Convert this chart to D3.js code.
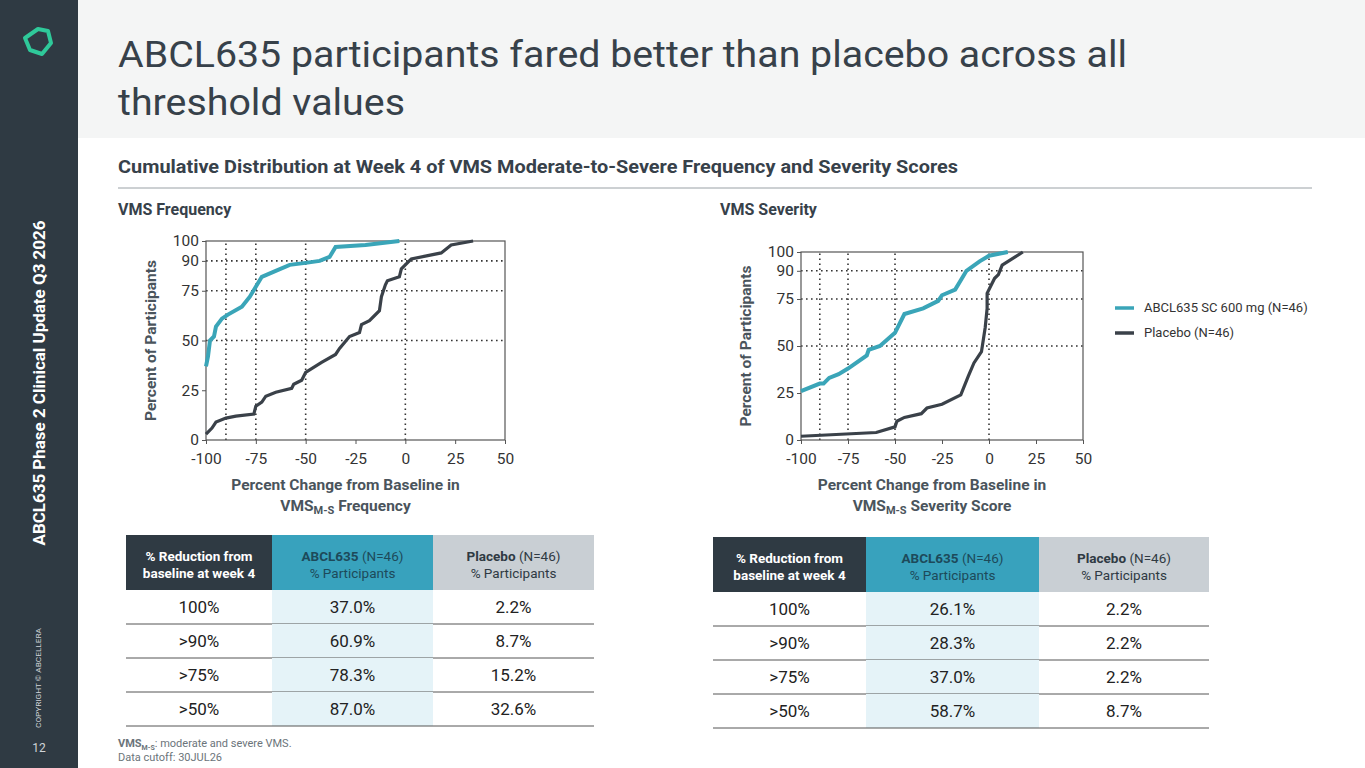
<!DOCTYPE html>
<html><head><meta charset="utf-8">
<script src="https://cdn.jsdelivr.net/npm/d3@7"></script>
<style>body{margin:0;background:#fff;font-family:Roboto,sans-serif}</style>
</head><body><svg id="s" width="1365" height="768"></svg>
<script>
var freqAbcl = [[-100,37],[-99,42],[-98,50],[-96,52],[-95,57],[-92,61],[-89,63],[-82,67],[-78,72],[-75,77],[-72,82],[-65,85],[-58,88],[-50,89],[-43,90],[-38,92],[-35,97],[-20,98],[-3,100]];
var freqPbo = [[-100,3],[-97,6],[-95,9],[-90,11],[-85,12],[-76,13],[-75,17],[-72,19],[-70,22],[-65,24],[-57,26],[-56,28],[-52,30],[-50,34],[-42,39],[-35,43],[-33,46],[-28,52],[-23,54],[-22,58],[-18,60],[-13,65],[-12,72],[-10,78],[-9,80],[-3,82],[-2,86],[1,89],[3,91],[18,94],[23,98],[34,100]];
var sevAbcl = [[-100,26],[-90,30],[-88,30],[-85,33],[-80,35],[-75,38],[-65,45],[-64,48],[-58,50],[-50,57],[-45,67],[-35,70],[-27,74],[-25,77],[-18,80],[-15,85],[-12,90],[-5,95],[0,98],[10,100]];
var sevPbo = [[-100,2],[-60,4],[-50,7],[-49,10],[-45,12],[-36,14],[-33,17],[-25,19],[-15,24],[-11,34],[-8,41],[-4,47],[-2,60],[-1,70],[-1,78],[1,82],[3,86],[5,88],[7,93],[18,100]];
var xTicks = [-100,-75,-50,-25,0,25,50];
var yTicks = [0,25,50,75,90,100];
var vRefs = [-90,-75,-50,0];
var hRefs = [50,75,90];
var rowLabels = ["100%", ">90%", ">75%", ">50%"];
var freqAbclPct = ["37.0%","60.9%","78.3%","87.0%"];
var freqPboPct = ["2.2%","8.7%","15.2%","32.6%"];
var sevAbclPct = ["26.1%","28.3%","37.0%","58.7%"];
var sevPboPct = ["2.2%","2.2%","2.2%","8.7%"];

var svg = d3.select("#s");
var dark = "#2f3a43", teal = "#3aa5b8", txt = "#37414a";

svg.append("rect").attr("width",78).attr("height",768).attr("fill",dark);
svg.append("rect").attr("x",78).attr("width",1287).attr("height",138).attr("fill","#f4f5f5");
svg.append("polygon").attr("points","38,29 48,31 51,43 42,54 30,50 25,38").attr("fill","none").attr("stroke","#2fc99a").attr("stroke-width",4).attr("stroke-linejoin","round");
svg.append("text").attr("transform","translate(45,383) rotate(-90)").attr("text-anchor","middle").attr("fill","#fff").attr("font-size",17).attr("font-weight",700).attr("textLength",325).attr("lengthAdjust","spacingAndGlyphs").text("ABCL635 Phase 2 Clinical Update Q3 2026");
svg.append("text").attr("transform","translate(41,728) rotate(-90)").attr("text-anchor","start").attr("fill","#cfd4d8").attr("font-size",8).attr("textLength",100).attr("lengthAdjust","spacingAndGlyphs").text("COPYRIGHT © ABCELLERA");
svg.append("text").attr("x",39).attr("y",752).attr("text-anchor","middle").attr("fill","#cfd4d8").attr("font-size",12).text("12");

svg.append("text").attr("x",118).attr("y",67).attr("fill",txt).attr("font-size",37).attr("textLength",1009).attr("lengthAdjust","spacingAndGlyphs").text("ABCL635 participants fared better than placebo across all");
svg.append("text").attr("x",118).attr("y",115).attr("fill",txt).attr("font-size",37).attr("textLength",287).attr("lengthAdjust","spacingAndGlyphs").text("threshold values");
svg.append("text").attr("x",118).attr("y",173).attr("fill",txt).attr("font-size",18.5).attr("font-weight",700).attr("textLength",840).attr("lengthAdjust","spacingAndGlyphs").text("Cumulative Distribution at Week 4 of VMS Moderate-to-Severe Frequency and Severity Scores");
svg.append("line").attr("x1",118).attr("x2",1312).attr("y1",188).attr("y2",188).attr("stroke","#9aa1a6");
svg.append("text").attr("x",118).attr("y",215).attr("fill",txt).attr("font-size",16).attr("font-weight",700).text("VMS Frequency");
svg.append("text").attr("x",720).attr("y",215).attr("fill",txt).attr("font-size",16).attr("font-weight",700).text("VMS Severity");

function chart(x0,x1,y0,y1,a,p,label2){
  var x = d3.scaleLinear().domain([-100,50]).range([x0,x1]);
  var y = d3.scaleLinear().domain([0,100]).range([y0,y1]);
  var g = svg.append("g");
  vRefs.forEach(function(v){ g.append("line").attr("x1",x(v)).attr("x2",x(v)).attr("y1",y(0)).attr("y2",y(100)).attr("stroke","#333").attr("stroke-width",1.6).attr("stroke-dasharray","1.6,3.4"); });
  hRefs.forEach(function(v){ g.append("line").attr("x1",x(-100)).attr("x2",x(50)).attr("y1",y(v)).attr("y2",y(v)).attr("stroke","#333").attr("stroke-width",1.6).attr("stroke-dasharray","1.6,3.4"); });
  g.append("rect").attr("x",x0).attr("y",y1).attr("width",x1-x0).attr("height",y0-y1).attr("fill","none").attr("stroke","#555").attr("stroke-width",1.2);
  var ln = d3.line().x(function(d){return x(d[0]);}).y(function(d){return y(d[1]);});
  g.append("path").attr("d",ln(p)).attr("fill","none").attr("stroke","#3a4149").attr("stroke-width",3.2);
  g.append("path").attr("d",ln(a)).attr("fill","none").attr("stroke",teal).attr("stroke-width",4);
  var xa = g.append("g").attr("transform","translate(0,"+y0+")").call(d3.axisBottom(x).tickValues(xTicks).tickSize(4).tickFormat(function(d){return String(d);}));
  var ya = g.append("g").attr("transform","translate("+x0+",0)").call(d3.axisLeft(y).tickValues(yTicks).tickSize(4));
  [xa,ya].forEach(function(ax){ ax.select(".domain").remove(); ax.selectAll("line").attr("stroke","#555"); ax.selectAll("text").attr("font-size",15.5).attr("fill","#333").attr("font-family","Roboto"); });
  xa.selectAll("text").attr("dy","1.1em");
  g.append("text").attr("transform","translate("+(x0-50)+","+((y0+y1)/2)+") rotate(-90)").attr("text-anchor","middle").attr("fill","#4a545c").attr("font-size",15.5).attr("font-weight",700).text("Percent of Participants");
  var cx = (x0+x1)/2 - 10;
  g.append("text").attr("x",cx).attr("y",y0+50).attr("text-anchor","middle").attr("fill","#4a545c").attr("font-size",15.5).attr("font-weight",700).text("Percent Change from Baseline in");
  var t = g.append("text").attr("x",cx).attr("y",y0+71).attr("text-anchor","middle").attr("fill","#4a545c").attr("font-size",15.5).attr("font-weight",700);
  t.append("tspan").text("VMS");
  t.append("tspan").attr("font-size",11).attr("dy",3).text("M-S");
  t.append("tspan").attr("dy",-3).text(" "+label2);
}
chart(206,505,440,241,freqAbcl,freqPbo,"Frequency");
chart(801,1083,440,252,sevAbcl,sevPbo,"Severity Score");

[[teal,308,"ABCL635 SC 600 mg (N=46)"],["#3a4149",333,"Placebo (N=46)"]].forEach(function(l){
  svg.append("line").attr("x1",1115).attr("x2",1134).attr("y1",l[1]).attr("y2",l[1]).attr("stroke",l[0]).attr("stroke-width",3.5);
  svg.append("text").attr("x",1144).attr("y",l[1]+4).attr("fill","#333").attr("font-size",13).text(l[2]);
});

function table(x0,y0,w,hh,a,p){
  var xs = [x0,x0+w[0],x0+w[0]+w[1],x0+w[0]+w[1]+w[2]];
  var fills = [dark,"#38a2bd","#c9cfd4"];
  var g = svg.append("g");
  fills.forEach(function(f,i){ g.append("rect").attr("x",xs[i]).attr("y",y0).attr("width",xs[i+1]-xs[i]).attr("height",hh).attr("fill",f); });
  var h0 = g.append("text").attr("text-anchor","middle").attr("fill","#fff").attr("font-size",13.5).attr("font-weight",700);
  h0.append("tspan").attr("x",(xs[0]+xs[1])/2).attr("y",y0+hh/2-2).text("% Reduction from");
  h0.append("tspan").attr("x",(xs[0]+xs[1])/2).attr("y",y0+hh/2+15).text("baseline at week 4");
  [["ABCL635","#fff","#1d4a5a"],["Placebo",dark,dark]].forEach(function(h,i){
    var cx=(xs[i+1]+xs[i+2])/2;
    var t=g.append("text").attr("x",cx).attr("y",y0+hh/2-2).attr("text-anchor","middle").attr("font-size",13.5).attr("fill",h[2]);
    t.append("tspan").attr("font-weight",700).text(h[0]);
    t.append("tspan").text(" (N=46)");
    g.append("text").attr("x",cx).attr("y",y0+hh/2+15).attr("text-anchor","middle").attr("font-size",13.5).attr("fill",h[2]).text("% Participants");
  });
  var rh = 34;
  rowLabels.forEach(function(r,i){
    var y = y0+hh+i*rh;
    g.append("rect").attr("x",xs[1]).attr("y",y).attr("width",w[1]).attr("height",rh).attr("fill","#e5f3f8");
    g.append("line").attr("x1",xs[0]).attr("x2",xs[3]).attr("y1",y+rh).attr("y2",y+rh).attr("stroke","#555").attr("stroke-width",1);
    [r,a[i],p[i]].forEach(function(v,j){ g.append("text").attr("x",(xs[j]+xs[j+1])/2).attr("y",y+rh/2+6).attr("text-anchor","middle").attr("fill","#222").attr("font-size",17).text(v); });
  });
}
table(126,535,[146,161,161],55,freqAbclPct,freqPboPct);
table(713,537,[153,173,170],55,sevAbclPct,sevPboPct);

var fn = svg.append("text").attr("x",118).attr("y",747).attr("fill","#6b747a").attr("font-size",11);
fn.append("tspan").attr("font-weight",700).text("VMS");
fn.append("tspan").attr("font-size",7).attr("dy",3).attr("font-weight",700).text("M-S");
fn.append("tspan").attr("dy",-3).text(": moderate and severe VMS.");
svg.append("text").attr("x",118).attr("y",761).attr("fill","#6b747a").attr("font-size",11).text("Data cutoff: 30JUL26");
</script></body></html>
